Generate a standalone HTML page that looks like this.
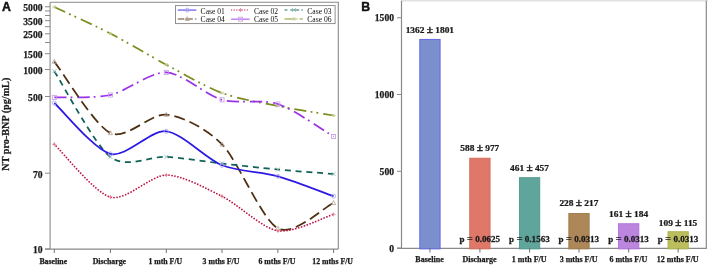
<!DOCTYPE html><html><head><meta charset="utf-8"><style>html,body{margin:0;padding:0;background:#fff;}svg{display:block;}text{font-family:"Liberation Serif",serif;} .bt{stroke:#1a1a1a;stroke-width:0.25px;}</style></head><body>
<svg width="708" height="267" viewBox="0 0 708 267" style="will-change:transform">
<rect width="708" height="267" fill="#fff"/>
<text x="2" y="10.8" style="font-family:'Liberation Sans',sans-serif;font-weight:bold;font-size:12.3px" fill="#111" stroke="#111" stroke-width="0.45">A</text>
<text x="361.3" y="10.8" style="font-family:'Liberation Sans',sans-serif;font-weight:bold;font-size:12.3px" fill="#111" stroke="#111" stroke-width="0.45">B</text>
<path d="M50.1,2.3 H338.3 V249.1 M50.1,2.3 V249.1 M45,249.1 H338.3" fill="none" stroke="#8a8a8a" stroke-width="1.1"/>
<path d="M45,249.00 H50" stroke="#8a8a8a" stroke-width="1"/>
<text x="42.5" y="253.40" text-anchor="end" font-size="9.6" font-weight="bold" fill="#1a1a1a" class="bt">10</text>
<path d="M45,173.16 H50" stroke="#8a8a8a" stroke-width="1"/>
<text x="42.5" y="177.56" text-anchor="end" font-size="9.6" font-weight="bold" fill="#1a1a1a" class="bt">70</text>
<path d="M45,96.53 H50" stroke="#8a8a8a" stroke-width="1"/>
<text x="42.5" y="100.93" text-anchor="end" font-size="9.6" font-weight="bold" fill="#1a1a1a" class="bt">500</text>
<path d="M45,69.52 H50" stroke="#8a8a8a" stroke-width="1"/>
<text x="42.5" y="73.92" text-anchor="end" font-size="9.6" font-weight="bold" fill="#1a1a1a" class="bt">1000</text>
<path d="M45,53.72 H50" stroke="#8a8a8a" stroke-width="1"/>
<text x="42.5" y="58.12" text-anchor="end" font-size="9.6" font-weight="bold" fill="#1a1a1a" class="bt">1500</text>
<path d="M45,42.51 H50" stroke="#8a8a8a" stroke-width="1"/>
<path d="M45,33.81 H50" stroke="#8a8a8a" stroke-width="1"/>
<text x="42.5" y="38.21" text-anchor="end" font-size="9.6" font-weight="bold" fill="#1a1a1a" class="bt">2500</text>
<path d="M45,26.70 H50" stroke="#8a8a8a" stroke-width="1"/>
<path d="M45,20.70 H50" stroke="#8a8a8a" stroke-width="1"/>
<text x="42.5" y="25.10" text-anchor="end" font-size="9.6" font-weight="bold" fill="#1a1a1a" class="bt">3500</text>
<path d="M45,15.49 H50" stroke="#8a8a8a" stroke-width="1"/>
<path d="M45,10.90 H50" stroke="#8a8a8a" stroke-width="1"/>
<path d="M45,6.79 H50" stroke="#8a8a8a" stroke-width="1"/>
<text x="42.5" y="11.19" text-anchor="end" font-size="9.6" font-weight="bold" fill="#1a1a1a" class="bt">5000</text>
<path d="M54.30,249.1 V253" stroke="#707070" stroke-width="1"/>
<text x="53.30" y="264.1" text-anchor="middle" font-size="7.8" font-weight="bold" fill="#1a1a1a" class="bt">Baseline</text>
<path d="M110.40,249.1 V253" stroke="#707070" stroke-width="1"/>
<text x="109.40" y="264.1" text-anchor="middle" font-size="7.8" font-weight="bold" fill="#1a1a1a" class="bt">Discharge</text>
<path d="M166.30,249.1 V253" stroke="#707070" stroke-width="1"/>
<text x="165.30" y="264.1" text-anchor="middle" font-size="7.8" font-weight="bold" fill="#1a1a1a" class="bt">1 mth F/U</text>
<path d="M222.00,249.1 V253" stroke="#707070" stroke-width="1"/>
<text x="221.00" y="264.1" text-anchor="middle" font-size="7.8" font-weight="bold" fill="#1a1a1a" class="bt">3 mths F/U</text>
<path d="M277.90,249.1 V253" stroke="#707070" stroke-width="1"/>
<text x="276.90" y="264.1" text-anchor="middle" font-size="7.8" font-weight="bold" fill="#1a1a1a" class="bt">6 mths F/U</text>
<path d="M333.60,249.1 V253" stroke="#707070" stroke-width="1"/>
<text x="332.60" y="264.1" text-anchor="middle" font-size="7.8" font-weight="bold" fill="#1a1a1a" class="bt">12 mths F/U</text>
<text transform="translate(9,124.2) rotate(-90)" text-anchor="middle" font-size="10.2" font-weight="bold" fill="#1a1a1a" class="bt">NT pro-BNP (pg/mL)</text>
<g fill="none">
<path d="M54.30,7.00 C63.65,11.42 94.53,25.33 110.40,33.50 C126.27,41.67 150.49,56.27 166.30,64.70 C182.11,73.13 206.19,87.15 222.00,93.00 C237.81,98.85 262.09,102.81 277.90,106.00 C293.71,109.19 324.32,113.92 333.60,115.50" stroke="#7b8c1c" stroke-width="1.75" stroke-dasharray="12 4.4 1.8 4.1 1.8 5.1"/>
<path d="M54.30,97.40 C63.65,97.00 94.53,98.54 110.40,95.00 C126.27,91.46 150.49,71.72 166.30,72.40 C182.11,73.08 206.19,95.32 222.00,99.80 C237.81,104.28 262.09,98.80 277.90,104.00 C293.71,109.20 324.32,131.08 333.60,136.50" stroke="#9a32e6" stroke-width="1.75" stroke-dasharray="12.3 4 1.8 4.95"/>
<path d="M54.30,61.60 C63.65,73.50 94.53,125.48 110.40,133.00 C126.27,140.52 150.49,113.10 166.30,114.70 C182.11,116.30 206.19,128.19 222.00,144.30 C237.81,160.41 262.09,220.11 277.90,228.40 C293.71,236.69 324.32,207.07 333.60,202.80" stroke="#4e2f12" stroke-width="1.75" stroke-dasharray="11 5"/>
<path d="M54.30,71.30 C63.65,85.58 94.53,144.89 110.40,157.00 C126.27,169.11 150.49,155.88 166.30,156.80 C182.11,157.72 206.19,161.70 222.00,163.50 C237.81,165.30 262.09,168.01 277.90,169.50 C293.71,170.99 324.32,173.25 333.60,174.00" stroke="#0f625a" stroke-width="1.75" stroke-dasharray="6 4.75"/>
<path d="M54.30,103.00 C63.65,111.48 94.53,149.89 110.40,153.90 C126.27,157.91 150.49,129.69 166.30,131.30 C182.11,132.92 206.19,158.93 222.00,165.30 C237.81,171.68 262.09,171.92 277.90,176.30 C293.71,180.68 324.32,192.88 333.60,196.20" stroke="#2d1ae2" stroke-width="1.75"/>
<path d="M54.30,144.30 C63.65,153.10 94.53,192.74 110.40,197.10 C126.27,201.46 150.49,175.21 166.30,175.10 C182.11,174.99 206.19,188.41 222.00,196.30 C237.81,204.19 262.09,228.25 277.90,230.80 C293.71,233.35 324.32,217.05 333.60,214.30" stroke="#bf1442" stroke-width="1.75" stroke-dasharray="0.01 3.0" stroke-linecap="round"/>
<path d="M52.25,7.00 L56.35,7.00 M53.07,5.36 L55.53,8.64 M53.07,8.64 L55.53,5.36" stroke="#c4cc8c" stroke-width="0.8"/>
<path d="M108.35,33.50 L112.45,33.50 M109.17,31.86 L111.63,35.14 M109.17,35.14 L111.63,31.86" stroke="#c4cc8c" stroke-width="0.8"/>
<path d="M164.25,64.70 L168.35,64.70 M165.07,63.06 L167.53,66.34 M165.07,66.34 L167.53,63.06" stroke="#c4cc8c" stroke-width="0.8"/>
<path d="M219.95,93.00 L224.05,93.00 M220.77,91.36 L223.23,94.64 M220.77,94.64 L223.23,91.36" stroke="#c4cc8c" stroke-width="0.8"/>
<path d="M275.85,106.00 L279.95,106.00 M276.67,104.36 L279.13,107.64 M276.67,107.64 L279.13,104.36" stroke="#c4cc8c" stroke-width="0.8"/>
<path d="M331.55,115.50 L335.65,115.50 M332.37,113.86 L334.83,117.14 M332.37,117.14 L334.83,113.86" stroke="#c4cc8c" stroke-width="0.8"/>
<rect x="52.25" y="95.35" width="4.10" height="4.10" fill="none" stroke="#c79be8" stroke-width="0.8"/>
<rect x="108.35" y="92.95" width="4.10" height="4.10" fill="none" stroke="#c79be8" stroke-width="0.8"/>
<rect x="164.25" y="70.35" width="4.10" height="4.10" fill="none" stroke="#c79be8" stroke-width="0.8"/>
<rect x="219.95" y="97.75" width="4.10" height="4.10" fill="none" stroke="#c79be8" stroke-width="0.8"/>
<rect x="275.85" y="101.95" width="4.10" height="4.10" fill="none" stroke="#c79be8" stroke-width="0.8"/>
<rect x="331.55" y="134.45" width="4.10" height="4.10" fill="none" stroke="#c79be8" stroke-width="0.8"/>
<path d="M54.30,59.34 L56.35,63.24 L52.25,63.24 Z" fill="none" stroke="#b3a090" stroke-width="0.8"/>
<path d="M110.40,130.75 L112.45,134.64 L108.35,134.64 Z" fill="none" stroke="#b3a090" stroke-width="0.8"/>
<path d="M166.30,112.45 L168.35,116.34 L164.25,116.34 Z" fill="none" stroke="#b3a090" stroke-width="0.8"/>
<path d="M222.00,142.05 L224.05,145.94 L219.95,145.94 Z" fill="none" stroke="#b3a090" stroke-width="0.8"/>
<path d="M277.90,226.15 L279.95,230.04 L275.85,230.04 Z" fill="none" stroke="#b3a090" stroke-width="0.8"/>
<path d="M333.60,200.55 L335.65,204.44 L331.55,204.44 Z" fill="none" stroke="#b3a090" stroke-width="0.8"/>
<path d="M52.25,69.25 L56.35,73.35 M52.25,73.35 L56.35,69.25" stroke="#8cbab2" stroke-width="0.8"/>
<path d="M108.35,154.95 L112.45,159.05 M108.35,159.05 L112.45,154.95" stroke="#8cbab2" stroke-width="0.8"/>
<path d="M164.25,154.75 L168.35,158.85 M164.25,158.85 L168.35,154.75" stroke="#8cbab2" stroke-width="0.8"/>
<path d="M219.95,161.45 L224.05,165.55 M219.95,165.55 L224.05,161.45" stroke="#8cbab2" stroke-width="0.8"/>
<path d="M275.85,167.45 L279.95,171.55 M275.85,171.55 L279.95,167.45" stroke="#8cbab2" stroke-width="0.8"/>
<path d="M331.55,171.95 L335.65,176.05 M331.55,176.05 L335.65,171.95" stroke="#8cbab2" stroke-width="0.8"/>
<circle cx="54.30" cy="103.00" r="2.05" fill="none" stroke="#a9a4ef" stroke-width="0.8"/>
<circle cx="110.40" cy="153.90" r="2.05" fill="none" stroke="#a9a4ef" stroke-width="0.8"/>
<circle cx="166.30" cy="131.30" r="2.05" fill="none" stroke="#a9a4ef" stroke-width="0.8"/>
<circle cx="222.00" cy="165.30" r="2.05" fill="none" stroke="#a9a4ef" stroke-width="0.8"/>
<circle cx="277.90" cy="176.30" r="2.05" fill="none" stroke="#a9a4ef" stroke-width="0.8"/>
<circle cx="333.60" cy="196.20" r="2.05" fill="none" stroke="#a9a4ef" stroke-width="0.8"/>
<path d="M52.25,144.30 L56.35,144.30 M54.30,142.25 L54.30,146.35" stroke="#e27a90" stroke-width="0.8"/>
<path d="M108.35,197.10 L112.45,197.10 M110.40,195.05 L110.40,199.15" stroke="#e27a90" stroke-width="0.8"/>
<path d="M164.25,175.10 L168.35,175.10 M166.30,173.05 L166.30,177.15" stroke="#e27a90" stroke-width="0.8"/>
<path d="M219.95,196.30 L224.05,196.30 M222.00,194.25 L222.00,198.35" stroke="#e27a90" stroke-width="0.8"/>
<path d="M275.85,230.80 L279.95,230.80 M277.90,228.75 L277.90,232.85" stroke="#e27a90" stroke-width="0.8"/>
<path d="M331.55,214.30 L335.65,214.30 M333.60,212.25 L333.60,216.35" stroke="#e27a90" stroke-width="0.8"/>
</g>
<rect x="175.5" y="5.6" width="159.6" height="18" fill="#fff" stroke="#858585" stroke-width="0.9"/>
<path d="M177.80,10.10 H196.30" stroke="#2d1ae2" stroke-width="1.5" opacity="0.6" fill="none"/>
<circle cx="187.30" cy="10.10" r="2.00" fill="none" stroke="#a9a4ef" stroke-width="0.8"/>
<text x="200.60" y="13.60" font-size="7.6" fill="#111">Case 01</text>
<path d="M231.60,10.00 H249.60" stroke="#bf1442" stroke-width="1.5" opacity="0.7" stroke-dasharray="0.01 2.6" stroke-linecap="round" fill="none"/>
<path fill="none" d="M238.60,10.00 L242.60,10.00 M240.60,8.00 L240.60,12.00" stroke="#e27a90" stroke-width="0.8"/>
<text x="253.90" y="13.60" font-size="7.6" fill="#111">Case 02</text>
<path d="M284.50,9.90 H287.40 M290.30,9.90 H299.20 M301.40,9.90 H302.80" stroke="#0f625a" stroke-width="1.5" opacity="0.6" fill="none"/>
<path fill="none" d="M292.00,7.90 L296.00,11.90 M292.00,11.90 L296.00,7.90" stroke="#8cbab2" stroke-width="0.8"/>
<text x="307.30" y="13.60" font-size="7.6" fill="#111">Case 03</text>
<path d="M177.80,18.90 H184.30 M185.30,18.90 H192.80 M195.10,18.90 H196.40" stroke="#4e2f12" stroke-width="1.5" opacity="0.6" fill="none"/>
<path fill="none" d="M187.30,16.70 L189.30,20.50 L185.30,20.50 Z" fill="none" stroke="#b3a090" stroke-width="0.8"/>
<text x="200.60" y="22.40" font-size="7.6" fill="#111">Case 04</text>
<path d="M231.10,19.20 H249.60" stroke="#9a32e6" stroke-width="1.5" opacity="0.6" fill="none"/>
<rect x="238.60" y="17.20" width="4.00" height="4.00" fill="none" stroke="#c79be8" stroke-width="0.8"/>
<text x="253.90" y="22.40" font-size="7.6" fill="#111">Case 05</text>
<path d="M284.50,18.90 H292.00 M292.50,18.90 H295.30 M296.50,18.90 H297.50 M299.60,18.90 H302.80" stroke="#7b8c1c" stroke-width="1.5" opacity="0.6" fill="none"/>
<path fill="none" d="M292.00,18.90 L296.00,18.90 M292.80,17.30 L295.20,20.50 M292.80,20.50 L295.20,17.30" stroke="#c4cc8c" stroke-width="0.8"/>
<text x="307.30" y="22.40" font-size="7.6" fill="#111">Case 06</text>
<path d="M401,0.8 H708" fill="none" stroke="#e2e2e2" stroke-width="1.6"/>
<path d="M401.5,0.8 V248.4 M397,248.4 H706.3 V0.8" fill="none" stroke="#8a8a8a" stroke-width="1.2"/>
<path d="M397,248.00 H401.5" stroke="#8a8a8a" stroke-width="1"/>
<text x="394" y="251.60" text-anchor="end" font-size="9.6" font-weight="bold" fill="#1a1a1a" class="bt">0</text>
<path d="M397,171.25 H401.5" stroke="#8a8a8a" stroke-width="1"/>
<text x="394" y="174.85" text-anchor="end" font-size="9.6" font-weight="bold" fill="#1a1a1a" class="bt">500</text>
<path d="M397,94.50 H401.5" stroke="#8a8a8a" stroke-width="1"/>
<text x="394" y="98.10" text-anchor="end" font-size="9.6" font-weight="bold" fill="#1a1a1a" class="bt">1000</text>
<path d="M397,17.75 H401.5" stroke="#8a8a8a" stroke-width="1"/>
<text x="394" y="21.35" text-anchor="end" font-size="9.6" font-weight="bold" fill="#1a1a1a" class="bt">1500</text>
<rect x="419.80" y="39.38" width="20.3" height="209.52" fill="#7b8fce" stroke="#5c60e2" stroke-width="0.9"/>
<path d="M429.95,248.4 V252.6" stroke="#707070" stroke-width="1"/>
<text x="429.55" y="262.4" text-anchor="middle" font-size="8" font-weight="bold" fill="#1a1a1a" class="bt">Baseline</text>
<text transform="translate(429.85,32.60) scale(1.12,1)" text-anchor="middle" font-size="8.4" font-weight="bold" fill="#1a1a1a" class="bt">1362 <tspan font-size="10" stroke-width="0.45">±</tspan> 1801</text>
<rect x="469.75" y="158.19" width="20.3" height="90.71" fill="#df7868" stroke="#d06a5c" stroke-width="0.9"/>
<path d="M479.90,248.4 V252.6" stroke="#707070" stroke-width="1"/>
<text x="479.50" y="262.4" text-anchor="middle" font-size="8" font-weight="bold" fill="#1a1a1a" class="bt">Discharge</text>
<text transform="translate(479.80,151.00) scale(1.12,1)" text-anchor="middle" font-size="8.4" font-weight="bold" fill="#1a1a1a" class="bt">588 <tspan font-size="10" stroke-width="0.45">±</tspan> 977</text>
<text transform="translate(479.70,241.9) scale(1.03,1)" text-anchor="middle" font-size="8.8" font-weight="bold" fill="#1a1a1a" class="bt">p <tspan font-size="10.5" stroke-width="0.1">=</tspan> 0.0625</text>
<rect x="519.45" y="177.69" width="20.3" height="71.21" fill="#5fa59b" stroke="#4f988d" stroke-width="0.9"/>
<path d="M529.60,248.4 V252.6" stroke="#707070" stroke-width="1"/>
<text x="529.20" y="262.4" text-anchor="middle" font-size="8" font-weight="bold" fill="#1a1a1a" class="bt">1 mth F/U</text>
<text transform="translate(529.50,170.90) scale(1.12,1)" text-anchor="middle" font-size="8.4" font-weight="bold" fill="#1a1a1a" class="bt">461 <tspan font-size="10" stroke-width="0.45">±</tspan> 457</text>
<text transform="translate(529.40,241.9) scale(1.03,1)" text-anchor="middle" font-size="8.8" font-weight="bold" fill="#1a1a1a" class="bt">p <tspan font-size="10.5" stroke-width="0.1">=</tspan> 0.1563</text>
<rect x="568.85" y="213.45" width="20.3" height="35.45" fill="#ae8758" stroke="#9e7848" stroke-width="0.9"/>
<path d="M579.00,248.4 V252.6" stroke="#707070" stroke-width="1"/>
<text x="578.60" y="262.4" text-anchor="middle" font-size="8" font-weight="bold" fill="#1a1a1a" class="bt">3 mths F/U</text>
<text transform="translate(578.90,206.40) scale(1.12,1)" text-anchor="middle" font-size="8.4" font-weight="bold" fill="#1a1a1a" class="bt">228 <tspan font-size="10" stroke-width="0.45">±</tspan> 217</text>
<text transform="translate(578.80,241.9) scale(1.03,1)" text-anchor="middle" font-size="8.8" font-weight="bold" fill="#1a1a1a" class="bt">p <tspan font-size="10.5" stroke-width="0.1">=</tspan> 0.0313</text>
<rect x="618.55" y="223.74" width="20.3" height="25.16" fill="#bd86de" stroke="#b070d8" stroke-width="0.9"/>
<path d="M628.70,248.4 V252.6" stroke="#707070" stroke-width="1"/>
<text x="628.30" y="262.4" text-anchor="middle" font-size="8" font-weight="bold" fill="#1a1a1a" class="bt">6 mths F/U</text>
<text transform="translate(628.60,217.40) scale(1.12,1)" text-anchor="middle" font-size="8.4" font-weight="bold" fill="#1a1a1a" class="bt">161 <tspan font-size="10" stroke-width="0.45">±</tspan> 184</text>
<text transform="translate(628.50,241.9) scale(1.03,1)" text-anchor="middle" font-size="8.8" font-weight="bold" fill="#1a1a1a" class="bt">p <tspan font-size="10.5" stroke-width="0.1">=</tspan> 0.0313</text>
<rect x="668.00" y="231.72" width="20.3" height="17.18" fill="#bcbd5c" stroke="#adae4c" stroke-width="0.9"/>
<path d="M678.15,248.4 V252.6" stroke="#707070" stroke-width="1"/>
<text x="677.75" y="262.4" text-anchor="middle" font-size="8" font-weight="bold" fill="#1a1a1a" class="bt">12 mths F/U</text>
<text transform="translate(678.05,225.50) scale(1.12,1)" text-anchor="middle" font-size="8.4" font-weight="bold" fill="#1a1a1a" class="bt">109 <tspan font-size="10" stroke-width="0.45">±</tspan> 115</text>
<text transform="translate(677.95,241.9) scale(1.03,1)" text-anchor="middle" font-size="8.8" font-weight="bold" fill="#1a1a1a" class="bt">p <tspan font-size="10.5" stroke-width="0.1">=</tspan> 0.0313</text>
</svg></body></html>
